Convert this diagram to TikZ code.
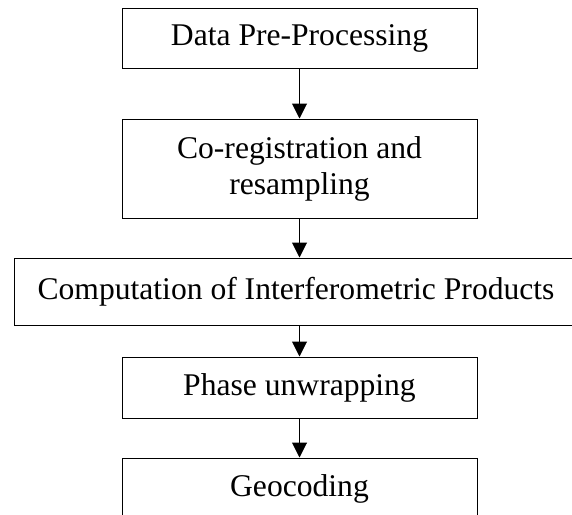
\documentclass[tikz,border=0pt]{standalone}
\usepackage{fontspec}
\setmainfont{Liberation Serif}
\usetikzlibrary{arrows.meta}

\begin{document}
\begin{tikzpicture}[x=0.5pt,y=-0.5pt,
    box/.style={shape=rectangle,draw=black,line width=0.5pt,inner sep=0pt,
        minimum width=177.5pt,align=center,
        font=\fontsize{15.8pt}{18pt}\selectfont},
    arrow/.style={-{Triangle[width=7.5pt,length=7.5pt]},line width=0.5pt}]
                \clip (0,0) rectangle (572,514);
                \node[box, minimum height=30pt] (1) at (299.5,38) {Data Pre-Processing};
                \node[box, minimum height=49.5pt] (2) at (299.5,168.5) {Co-registration and\\resampling};
                \node[box, minimum height=33.5pt, minimum width=282pt] (3) at (296,291.5) {Computation of Interferometric Products};
                \node[box, minimum height=30.5pt] (4) at (299.5,387.5) {Phase unwrapping};
                \node[box, minimum height=30.5pt] (5) at (299.5,488.5) {Geocoding};

                \draw[arrow] (1) -- (2);
                \draw[arrow] (2.south) -- (2.south |- 3.north);
                \draw[arrow] (4.north |- 3.south) -- (4.north);
                \draw[arrow] (4) -- (5);
            \end{tikzpicture}
\end{document}
